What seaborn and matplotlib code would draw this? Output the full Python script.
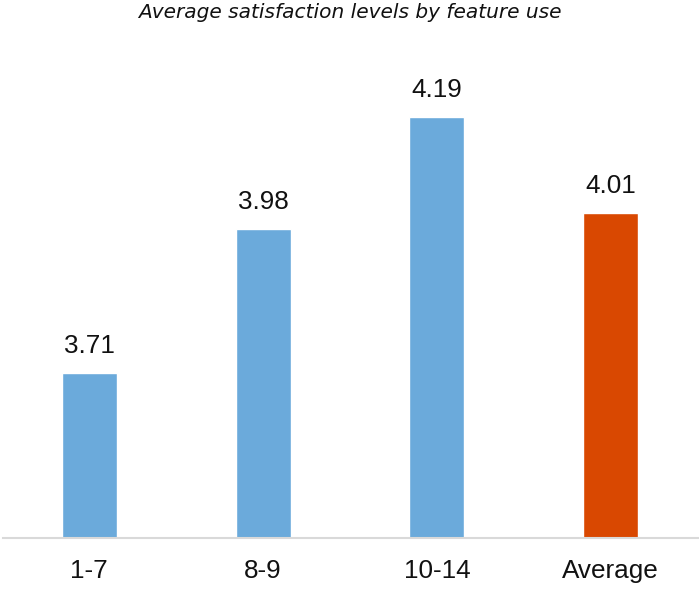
import matplotlib
matplotlib.use("Agg")
import matplotlib.pyplot as plt
import seaborn as sns
import pandas as pd

categories = ["1-7", "8-9", "10-14", "Average"]
values = [3.71, 3.98, 4.19, 4.01]
colors = ["#6BAADB", "#6BAADB", "#6BAADB", "#D94801"]
title = "Average satisfaction levels by feature use"

sns.set_theme(style="white")
plt.rcParams["font.family"] = ["Liberation Sans", "DejaVu Sans"]

df = pd.DataFrame({"cat": categories, "val": values})

fig = plt.figure(figsize=(6.99, 6.01), dpi=100)
ax = fig.add_axes([2.5 / 699, 63 / 601, 695 / 699, (538 - 32) / 601])

sns.barplot(data=df, x="cat", y="val", hue="cat", palette=dict(zip(categories, colors)),
            legend=False, width=0.316, saturation=1, ax=ax)

ax.set_ylim(3.40, 4.35)
ax.set_xlim(-0.5, 3.5)
ax.set_xlabel("")
ax.set_ylabel("")
ax.set_yticks([])
for s in ["top", "right", "left"]:
    ax.spines[s].set_visible(False)
ax.spines["bottom"].set_color("#D9D9D9")
ax.spines["bottom"].set_linewidth(1.5)
ax.tick_params(axis="x", length=0, pad=15, labelsize=18.8, labelcolor="#111111")

for i, v in enumerate(values):
    ax.annotate(f"{v:.2f}", (i, v), xytext=(0, 11), textcoords="offset points",
                ha="center", va="bottom", fontsize=18.8, color="#111111")

fig.text(0.5, 1 - 13 / 601, title, ha="center", va="center", fontsize=14.5,
         style="italic", family="DejaVu Sans", color="#111111")

fig.savefig("out.png", dpi=100)
